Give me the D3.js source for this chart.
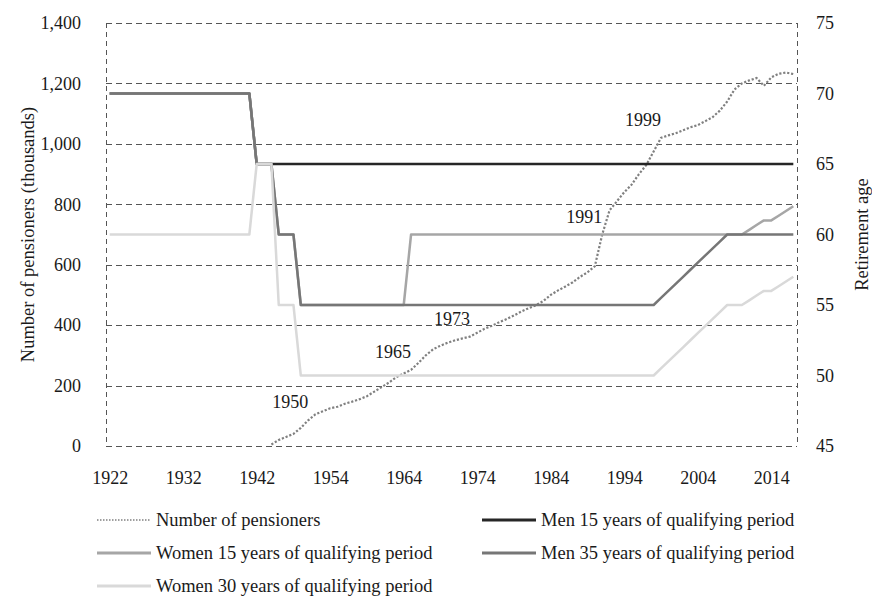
<!DOCTYPE html>
<html>
<head>
<meta charset="utf-8">
<script src="https://cdn.jsdelivr.net/npm/d3@7"></script>
<style>
  body { margin: 0; background: #fff; }
  svg text { font-family: "Liberation Serif", "Times New Roman", serif; fill: #1a1a1a; }
</style>
</head>
<body>
<div id="chart"></div>
<script>
// category years (two years between 1942 and 1954 are not in the source axis)
const years = [
  1922, 1923, 1924, 1925, 1926, 1927, 1928, 1929, 1930, 1931,
  1932, 1933, 1934, 1935, 1936, 1937, 1938, 1939, 1940, 1941,
  1942, 1943, 1945, 1946, 1947, 1948, 1949, 1950, 1952, 1953,
  1954, 1955, 1956, 1957, 1958, 1959, 1960, 1961, 1962, 1963,
  1964, 1965, 1966, 1967, 1968, 1969, 1970, 1971, 1972, 1973,
  1974, 1975, 1976, 1977, 1978, 1979, 1980, 1981, 1982, 1983,
  1984, 1985, 1986, 1987, 1988, 1989, 1990, 1991, 1992, 1993,
  1994, 1995, 1996, 1997, 1998, 1999, 2000, 2001, 2002, 2003,
  2004, 2005, 2006, 2007, 2008, 2009, 2010, 2011, 2012, 2013,
  2014, 2015, 2016, 2017
];
const tickYears = [1922, 1932, 1942, 1954, 1964, 1974, 1984, 1994, 2004, 2014];
const leftTicks = [0, 200, 400, 600, 800, 1000, 1200, 1400];
const rightTicks = [45, 50, 55, 60, 65, 70, 75];

// number of pensioners (thousands), left axis
const pensioners = [
  null, null, null, null, null, null, null, null, null, null,
  null, null, null, null, null, null, null, null, null, null,
  null, null, 5, 20, 30, 40, 60, 85, 105, 115,
  125, 130, 140, 147, 155, 165, 180, 195, 210, 228,
  240, 252, 275, 300, 320, 332, 342, 350, 356, 362,
  375, 388, 398, 410, 420, 432, 445, 456, 466, 480,
  500, 515, 528, 542, 560, 575, 595, 700, 780, 810,
  840, 865, 900, 930, 975, 1020, 1028, 1035, 1045, 1055,
  1062, 1075, 1088, 1110, 1140, 1180, 1200, 1210, 1218, 1192,
  1220, 1232, 1236, 1231
];

// retirement ages, right axis
const men15 = [
  70, 70, 70, 70, 70, 70, 70, 70, 70, 70,
  70, 70, 70, 70, 70, 70, 70, 70, 70, 70,
  65, 65, 65, 65, 65, 65, 65, 65, 65, 65,
  65, 65, 65, 65, 65, 65, 65, 65, 65, 65,
  65, 65, 65, 65, 65, 65, 65, 65, 65, 65,
  65, 65, 65, 65, 65, 65, 65, 65, 65, 65,
  65, 65, 65, 65, 65, 65, 65, 65, 65, 65,
  65, 65, 65, 65, 65, 65, 65, 65, 65, 65,
  65, 65, 65, 65, 65, 65, 65, 65, 65, 65,
  65, 65, 65, 65
];
const women15 = [
  70, 70, 70, 70, 70, 70, 70, 70, 70, 70,
  70, 70, 70, 70, 70, 70, 70, 70, 70, 70,
  65, 65, 65, 60, 60, 60, 55, 55, 55, 55,
  55, 55, 55, 55, 55, 55, 55, 55, 55, 55,
  55, 60, 60, 60, 60, 60, 60, 60, 60, 60,
  60, 60, 60, 60, 60, 60, 60, 60, 60, 60,
  60, 60, 60, 60, 60, 60, 60, 60, 60, 60,
  60, 60, 60, 60, 60, 60, 60, 60, 60, 60,
  60, 60, 60, 60, 60, 60, 60, 60.33, 60.67, 61,
  61, 61.33, 61.67, 62
];
const men35 = [
  70, 70, 70, 70, 70, 70, 70, 70, 70, 70,
  70, 70, 70, 70, 70, 70, 70, 70, 70, 70,
  65, 65, 65, 60, 60, 60, 55, 55, 55, 55,
  55, 55, 55, 55, 55, 55, 55, 55, 55, 55,
  55, 55, 55, 55, 55, 55, 55, 55, 55, 55,
  55, 55, 55, 55, 55, 55, 55, 55, 55, 55,
  55, 55, 55, 55, 55, 55, 55, 55, 55, 55,
  55, 55, 55, 55, 55, 55.5, 56, 56.5, 57, 57.5,
  58, 58.5, 59, 59.5, 60, 60, 60, 60, 60, 60,
  60, 60, 60, 60
];
const women30 = [
  60, 60, 60, 60, 60, 60, 60, 60, 60, 60,
  60, 60, 60, 60, 60, 60, 60, 60, 60, 60,
  65, 65, 65, 55, 55, 55, 50, 50, 50, 50,
  50, 50, 50, 50, 50, 50, 50, 50, 50, 50,
  50, 50, 50, 50, 50, 50, 50, 50, 50, 50,
  50, 50, 50, 50, 50, 50, 50, 50, 50, 50,
  50, 50, 50, 50, 50, 50, 50, 50, 50, 50,
  50, 50, 50, 50, 50, 50.5, 51, 51.5, 52, 52.5,
  53, 53.5, 54, 54.5, 55, 55, 55, 55.33, 55.67, 56,
  56, 56.33, 56.67, 57
];

const markedYears = [1950, 1965, 1973, 1991, 1999];

const width = 872, height = 596;
const plotLeft = 106, plotRight = 797, plotTop = 23, plotBottom = 446;

const svg = d3.select('#chart').append('svg')
  .attr('width', width)
  .attr('height', height);

const x = d3.scalePoint()
  .domain(years)
  .range([plotLeft, plotRight])
  .padding(0.5);

const yL = d3.scaleLinear().domain([0, 1400]).range([plotBottom, plotTop]);
const yR = d3.scaleLinear().domain([45, 75]).range([plotBottom, plotTop]);

// dashed gridlines + plot border
const grid = svg.append('g')
  .attr('stroke', '#555')
  .attr('stroke-width', 1)
  .attr('stroke-dasharray', '6,4');
grid.selectAll('line.h')
  .data(leftTicks)
  .enter().append('line')
  .attr('x1', plotLeft).attr('x2', plotRight)
  .attr('y1', d => Math.round(yL(d)) + 0.5)
  .attr('y2', d => Math.round(yL(d)) + 0.5);
grid.selectAll('line.v')
  .data([plotLeft, plotRight])
  .enter().append('line')
  .attr('stroke-dasharray', '5,4')
  .attr('x1', d => d + 0.5).attr('x2', d => d + 0.5)
  .attr('y1', plotTop).attr('y2', plotBottom);

// axes
const axL = svg.append('g')
  .attr('transform', `translate(${plotLeft - 22},0)`)
  .call(d3.axisLeft(yL).tickValues(leftTicks).tickFormat(d3.format(',')).tickSize(0));
const axR = svg.append('g')
  .attr('transform', `translate(${plotRight + 16},0)`)
  .call(d3.axisRight(yR).tickValues(rightTicks).tickSize(0));
const axB = svg.append('g')
  .attr('transform', `translate(0,${plotBottom + 22})`)
  .call(d3.axisBottom(x).tickValues(tickYears).tickSize(0));

[axL, axR, axB].forEach(g => {
  g.select('.domain').remove();
  g.selectAll('text')
    .style('font-size', '18px')
    .style('font-family', '"Liberation Serif", serif')
    .attr('fill', '#1a1a1a');
});

svg.append('text')
  .attr('transform', `translate(28,${(plotTop + plotBottom) / 2}) rotate(-90)`)
  .attr('text-anchor', 'middle')
  .attr('dy', '0.35em')
  .style('font-size', '18.5px')
  .text('Number of pensioners (thousands)');

svg.append('text')
  .attr('transform', `translate(862,${(plotTop + plotBottom) / 2}) rotate(-90)`)
  .attr('text-anchor', 'middle')
  .attr('dy', '0.35em')
  .style('font-size', '18.5px')
  .text('Retirement age');

// series
const ageLine = d3.line()
  .x((d, i) => x(years[i]))
  .y(d => yR(d));

const pensLine = d3.line()
  .defined(d => d != null)
  .x((d, i) => x(years[i]))
  .y(d => yL(d));

const series = [
  {name: 'Men 15 years of qualifying period', data: men15, color: '#262626'},
  {name: 'Women 15 years of qualifying period', data: women15, color: '#a6a6a6'},
  {name: 'Men 35 years of qualifying period', data: men35, color: '#767676'},
  {name: 'Women 30 years of qualifying period', data: women30, color: '#d9d9d9'}
];

svg.append('path')
  .datum(pensioners)
  .attr('fill', 'none')
  .attr('stroke', '#808080')
  .attr('stroke-width', 2.2)
  .attr('stroke-dasharray', '2.2,1.8')
  .attr('d', pensLine);

svg.selectAll('path.age')
  .data(series)
  .enter().append('path')
  .attr('class', 'age')
  .attr('fill', 'none')
  .attr('stroke', d => d.color)
  .attr('stroke-width', 2.5)
  .attr('stroke-linejoin', 'round')
  .attr('d', d => ageLine(d.data));

// year annotations on the pensioners curve
svg.selectAll('text.mark')
  .data(markedYears)
  .enter().append('text')
  .attr('class', 'mark')
  .attr('x', d => x(d) - 18)
  .attr('y', d => yL(pensioners[years.indexOf(d)]) - 12)
  .attr('text-anchor', 'middle')
  .style('font-size', '18px')
  .text(d => d);

// legend
const legendItems = [
  {name: 'Number of pensioners', color: '#808080', dotted: true, col: 0, row: 0},
  {name: series[0].name, color: series[0].color, col: 1, row: 0},
  {name: series[1].name, color: series[1].color, col: 0, row: 1},
  {name: series[2].name, color: series[2].color, col: 1, row: 1},
  {name: series[3].name, color: series[3].color, col: 0, row: 2}
];

const leg = svg.append('g')
  .selectAll('g')
  .data(legendItems)
  .enter().append('g')
  .attr('transform', d => `translate(${d.col ? 482 : 97},${520 + d.row * 33})`);

leg.append('line')
  .attr('x1', 0).attr('x2', 54)
  .attr('stroke', d => d.color)
  .attr('stroke-width', d => d.dotted ? 1.5 : 3)
  .attr('stroke-dasharray', d => d.dotted ? '1.5,1.5' : null);

leg.append('text')
  .attr('x', 59)
  .attr('dy', '0.35em')
  .style('font-size', '18.5px')
  .text(d => d.name);
</script>
</body>
</html>
